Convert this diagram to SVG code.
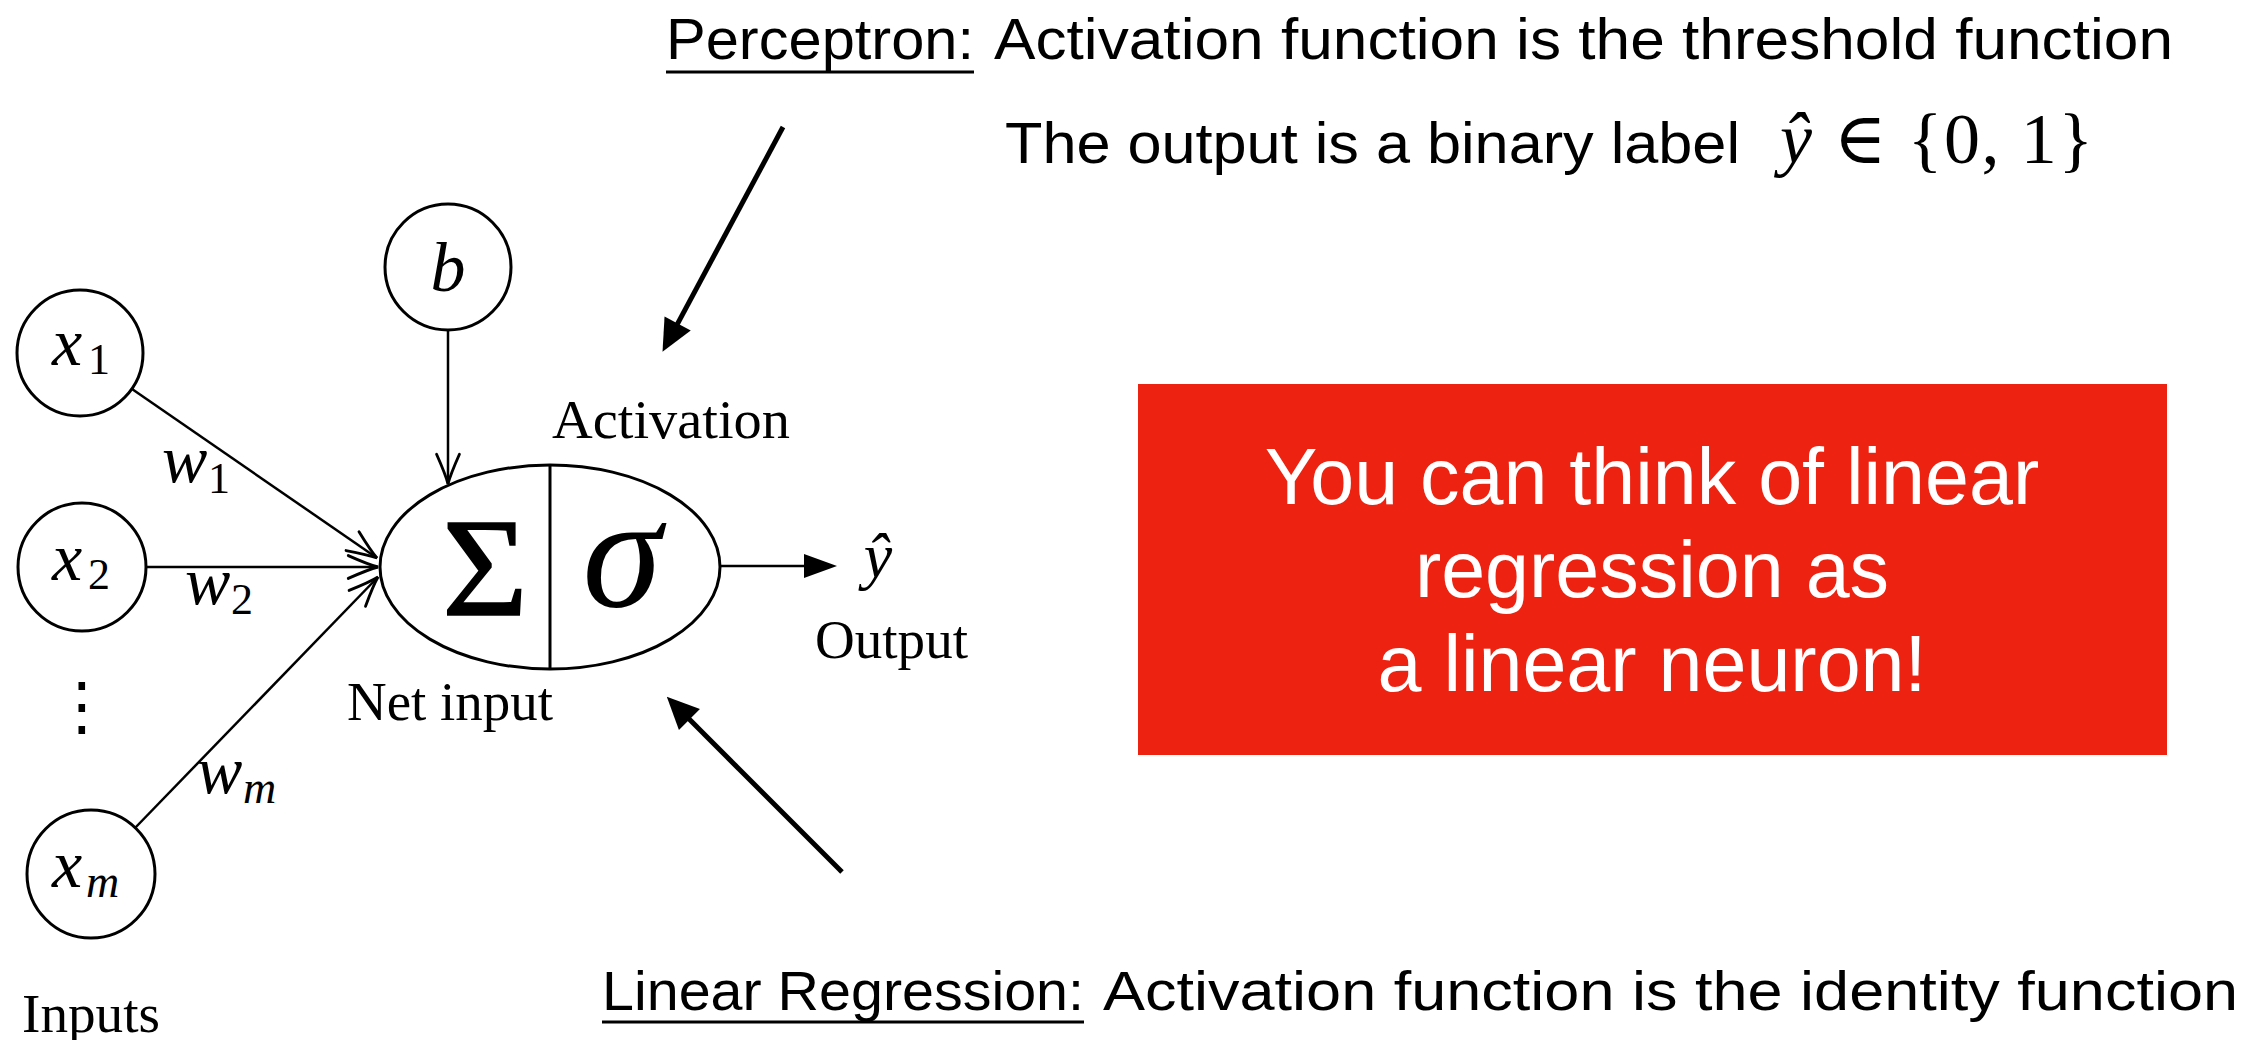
<svg xmlns="http://www.w3.org/2000/svg" width="2260" height="1040" viewBox="0 0 2260 1040">
<style>
.node{fill:#fff;stroke:#000;stroke-width:3}
.mi{font-family:"Liberation Serif","DejaVu Serif",serif;font-style:italic;fill:#000}
.rm{font-family:"Liberation Serif","DejaVu Serif",serif;fill:#000}
.ss{font-family:"Liberation Sans","DejaVu Sans",sans-serif;fill:#000}
.wt{fill:#fff}
.edge{stroke:#000;stroke-width:2.5;fill:none}
.thick{stroke:#000;stroke-width:5;fill:none}
</style>
<defs>
<marker id="open" markerUnits="userSpaceOnUse" markerWidth="40" markerHeight="40" viewBox="-30 -15 35 30" refX="0" refY="0" orient="auto" overflow="visible">
<path d="M -26 -10 Q -8 -2 0 0 Q -8 2 -26 10" fill="none" stroke="#000" stroke-width="2.5" stroke-linecap="round"/>
</marker>
<marker id="fillBig" markerUnits="userSpaceOnUse" markerWidth="40" markerHeight="40" viewBox="-10 -15 35 30" refX="0" refY="0" orient="auto" overflow="visible">
<path d="M 22 0 L -6 -13 L -6 13 Z" fill="#000"/>
</marker>
<marker id="fillSmall" markerUnits="userSpaceOnUse" markerWidth="40" markerHeight="40" viewBox="-20 -15 40 30" refX="0" refY="0" orient="auto" overflow="visible">
<path d="M 17 0 L -16 -12 L -16 12 Z" fill="#000"/>
</marker>
</defs>
<rect width="2260" height="1040" fill="#fff"/>

<g id="connectors">
<line class="edge" x1="448" y1="330" x2="448" y2="484" marker-end="url(#open)"/>
<line class="edge" x1="132" y1="389" x2="377" y2="558" marker-end="url(#open)"/>
<line class="edge" x1="146" y1="567" x2="378" y2="567" marker-end="url(#open)"/>
<line class="edge" x1="135" y1="828" x2="378" y2="577" marker-end="url(#open)"/>
<line class="edge" x1="720" y1="566" x2="820" y2="566" marker-end="url(#fillSmall)"/>
<line class="thick" x1="783" y1="127" x2="674.4" y2="329.6" marker-end="url(#fillBig)"/>
<line class="thick" x1="842" y1="872" x2="684.6" y2="714.6" marker-end="url(#fillBig)"/>
</g>

<g id="node-x1">
<circle class="node" cx="80" cy="353" r="63"/>
<text class="mi" x="52" y="365" font-size="68">x</text>
<text class="rm" x="88" y="374" font-size="44">1</text>
</g>
<g id="node-x2">
<circle class="node" cx="82" cy="567" r="64"/>
<text class="mi" x="52" y="580" font-size="68">x</text>
<text class="rm" x="88" y="589" font-size="44">2</text>
</g>
<g id="node-dots">
<text class="ss" x="82" y="728" font-size="64" text-anchor="middle">⋮</text>
</g>
<g id="node-xm">
<circle class="node" cx="91" cy="874" r="64"/>
<text class="mi" x="52" y="887" font-size="68">x</text>
<text class="mi" x="86" y="897" font-size="46">m</text>
</g>
<g id="node-b">
<circle class="node" cx="448" cy="267" r="63"/>
<text class="mi" x="448" y="291" font-size="70" text-anchor="middle">b</text>
</g>
<g id="weights">
<text class="mi" x="162" y="482" font-size="68">w</text>
<text class="rm" x="208" y="493" font-size="44">1</text>
<text class="mi" x="185" y="604" font-size="68">w</text>
<text class="rm" x="231" y="614" font-size="44">2</text>
<text class="mi" x="197" y="793" font-size="68">w</text>
<text class="mi" x="243" y="803" font-size="46">m</text>
</g>
<g id="node-neuron">
<ellipse class="node" cx="550" cy="567" rx="170" ry="102"/>
<line x1="550" y1="465" x2="550" y2="669" stroke="#000" stroke-width="3"/>
<text class="rm" x="442" y="615" font-size="140" textLength="86" lengthAdjust="spacingAndGlyphs" stroke="#000" stroke-width="1.5">Σ</text>
<text class="mi" x="622" y="606" font-size="160" text-anchor="middle">σ</text>
</g>
<g id="labels">
<text class="rm" x="552" y="438" font-size="54" textLength="238" lengthAdjust="spacingAndGlyphs">Activation</text>
<text class="rm" x="347" y="720" font-size="54" textLength="206" lengthAdjust="spacingAndGlyphs">Net input</text>
<text class="rm" x="815" y="658" font-size="54" textLength="153" lengthAdjust="spacingAndGlyphs">Output</text>
<text class="rm" x="22" y="1032" font-size="54" textLength="138" lengthAdjust="spacingAndGlyphs">Inputs</text>
<text class="mi" x="878" y="577" font-size="64" text-anchor="middle">ŷ</text>
</g>

<g id="note-perceptron">
<text class="ss" x="666" y="59" font-size="57" textLength="308" lengthAdjust="spacingAndGlyphs">Perceptron:</text>
<line x1="666" y1="72" x2="974" y2="72" stroke="#000" stroke-width="3"/>
<text class="ss" x="994" y="59" font-size="57" textLength="1179" lengthAdjust="spacingAndGlyphs">Activation function is the threshold function</text>
<text class="ss" x="1005" y="163" font-size="57" textLength="735" lengthAdjust="spacingAndGlyphs">The output is a binary label</text>
<text class="rm" x="1780" y="163" font-size="72" textLength="313" lengthAdjust="spacing"><tspan font-style="italic">ŷ</tspan> ∈ {0, 1}</text>
</g>

<g id="callout">
<rect x="1138" y="384" width="1029" height="371" fill="#ED2210"/>
<text class="ss wt" x="1652" y="504" font-size="79" text-anchor="middle">You can think of linear</text>
<text class="ss wt" x="1652" y="597" font-size="79" text-anchor="middle">regression as</text>
<text class="ss wt" x="1652" y="691" font-size="79" text-anchor="middle">a linear neuron!</text>
</g>

<g id="note-linreg">
<text class="ss" x="602" y="1010" font-size="56" textLength="482" lengthAdjust="spacingAndGlyphs">Linear Regression:</text>
<line x1="602" y1="1022" x2="1084" y2="1022" stroke="#000" stroke-width="3"/>
<text class="ss" x="1103" y="1010" font-size="56" textLength="1135" lengthAdjust="spacingAndGlyphs">Activation function is the identity function</text>
</g>
</svg>
